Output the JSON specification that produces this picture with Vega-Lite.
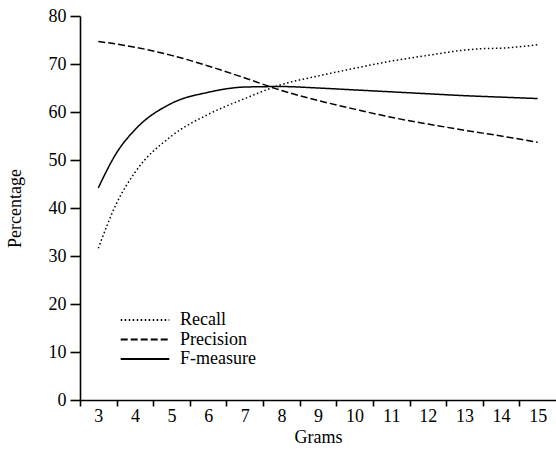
{
  "$schema": "https://vega.github.io/schema/vega-lite/v6.json",
  "autosize": {"type": "none"},
  "padding": {"left": 80, "top": 16, "right": 0, "bottom": 49},
  "width": 476,
  "height": 384,
  "background": "white",
  "config": {
    "view": {"stroke": null},
    "font": "Liberation Serif, Times New Roman, DejaVu Serif, serif",
    "axis": {
      "domainColor": "black", "domainWidth": 1.6, "tickColor": "black", "tickWidth": 1.6,
      "labelColor": "black", "titleColor": "black",
      "labelFont": "Liberation Serif, Times New Roman, DejaVu Serif, serif",
      "titleFont": "Liberation Serif, Times New Roman, DejaVu Serif, serif",
      "labelFontSize": 18, "titleFontSize": 18,
      "titleFontWeight": "normal", "grid": false
    },
    "legend": {"labelFont": "Liberation Serif, Times New Roman, DejaVu Serif, serif", "labelFontSize": 18, "labelColor": "black"}
  },
  "data": {
    "values": [
      {"g": 3, "m": "Recall", "v": 31.6},
      {"g": 3.5, "m": "Recall", "v": 41.0},
      {"g": 4, "m": "Recall", "v": 47.4},
      {"g": 5, "m": "Recall", "v": 55.0},
      {"g": 6, "m": "Recall", "v": 59.5},
      {"g": 7, "m": "Recall", "v": 62.8},
      {"g": 8, "m": "Recall", "v": 65.7},
      {"g": 9, "m": "Recall", "v": 67.5},
      {"g": 10, "m": "Recall", "v": 69.1},
      {"g": 11, "m": "Recall", "v": 70.6},
      {"g": 12, "m": "Recall", "v": 71.8},
      {"g": 13, "m": "Recall", "v": 72.9},
      {"g": 13.5, "m": "Recall", "v": 73.2},
      {"g": 14, "m": "Recall", "v": 73.3},
      {"g": 15, "m": "Recall", "v": 74.0},
      {"g": 3, "m": "Precision", "v": 74.7},
      {"g": 4, "m": "Precision", "v": 73.5},
      {"g": 5, "m": "Precision", "v": 71.8},
      {"g": 6, "m": "Precision", "v": 69.6},
      {"g": 7, "m": "Precision", "v": 67.1},
      {"g": 8, "m": "Precision", "v": 64.5},
      {"g": 9, "m": "Precision", "v": 62.4},
      {"g": 10, "m": "Precision", "v": 60.6},
      {"g": 11, "m": "Precision", "v": 58.9},
      {"g": 12, "m": "Precision", "v": 57.5},
      {"g": 13, "m": "Precision", "v": 56.2},
      {"g": 14, "m": "Precision", "v": 55.0},
      {"g": 15, "m": "Precision", "v": 53.7},
      {"g": 3, "m": "F-measure", "v": 44.2},
      {"g": 3.5, "m": "F-measure", "v": 51.5},
      {"g": 4, "m": "F-measure", "v": 56.3},
      {"g": 5, "m": "F-measure", "v": 61.8},
      {"g": 6, "m": "F-measure", "v": 64.1},
      {"g": 7, "m": "F-measure", "v": 65.2},
      {"g": 8, "m": "F-measure", "v": 65.3},
      {"g": 9, "m": "F-measure", "v": 65.0},
      {"g": 10, "m": "F-measure", "v": 64.6},
      {"g": 11, "m": "F-measure", "v": 64.2},
      {"g": 12, "m": "F-measure", "v": 63.8},
      {"g": 13, "m": "F-measure", "v": 63.4},
      {"g": 14, "m": "F-measure", "v": 63.1},
      {"g": 15, "m": "F-measure", "v": 62.8}
    ]
  },
  "mark": {"type": "line", "interpolate": "monotone", "color": "black", "strokeWidth": 1.5},
  "encoding": {
    "x": {
      "field": "g", "type": "quantitative",
      "scale": {"domain": [2.5, 15.5], "nice": false, "zero": false},
      "axis": {
        "title": "Grams", "values": [3,4,5,6,7,8,9,10,11,12,13,14,15],
        "tickOffset": -18.3, "labelOffset": 18.3, "tickSize": 6, "labelPadding": 1,
        "titlePadding": 3, "labelFlush": false, "labelOverlap": false
      }
    },
    "y": {
      "field": "v", "type": "quantitative",
      "scale": {"domain": [0, 80], "nice": false},
      "axis": {
        "title": "Percentage", "values": [0,10,20,30,40,50,60,70,80],
        "tickSize": 10, "labelPadding": 4, "titlePadding": 24, "labelFlush": false
      }
    },
    "strokeDash": {
      "field": "m", "type": "nominal",
      "scale": {"domain": ["Recall", "Precision", "F-measure"], "range": [[1.5, 2.5], [7, 3], [1, 0]]},
      "legend": {
        "title": null, "orient": "none", "legendX": 55, "legendY": 294,
        "symbolType": "M-2.7,0H2.7", "symbolSize": 324, "symbolStrokeWidth": 2,
        "symbolStrokeColor": "black", "rowPadding": 0.5, "labelOffset": 25
      }
    }
  }
}
